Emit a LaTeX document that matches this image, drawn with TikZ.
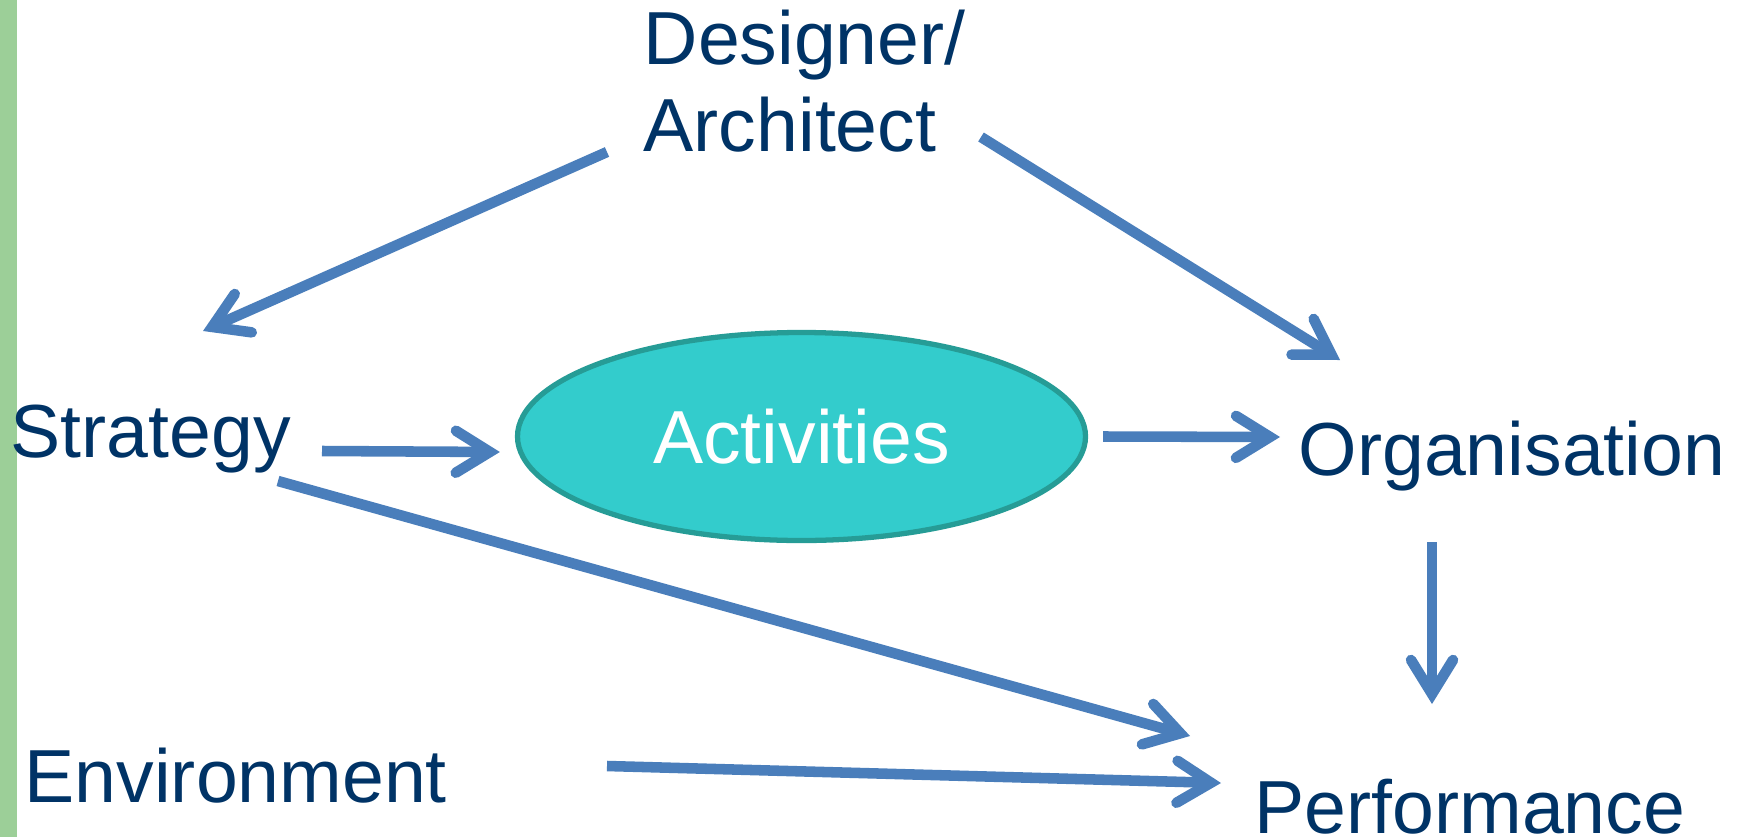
\documentclass[tikz,border=0pt]{standalone}
\usepackage{fontspec}
\setmainfont{Liberation Sans}
\usetikzlibrary{arrows.meta,shapes.geometric}

\definecolor{navy}{RGB}{0,51,102}
\definecolor{arrblue}{RGB}{74,126,187}
\definecolor{barcol}{RGB}{156,207,152}
\definecolor{actfill}{RGB}{51,204,204}
\definecolor{actline}{RGB}{38,156,150}

\begin{document}
\begin{tikzpicture}[
    lbl/.style={inner sep=0pt, anchor=base west, text=navy,
      font=\fontsize{21.4}{24.7}\selectfont},
    arr/.style={draw=arrblue, line width=3pt,
      -{Straight Barb[length=3.4mm, width=4.2mm, line cap=round, line join=miter]}}
  ]
  \useasboundingbox (0,0) rectangle (17.41,-8.37);
  \fill[barcol] (0,0) rectangle (0.17,-8.37);

  \node[lbl, align=left] (des) at (6.43,-1.51) { Designer/\\Architect };
  \node[lbl] (str) at (0.10,-4.57) { Strategy };
  \node[lbl] (org) at (12.98,-4.75) { Organisation };
  \node[lbl] (env) at (0.24,-8.02) { Environment };
  \node[lbl] (perf) at (12.54,-8.33) { Performance };

  \node[ellipse, draw=actline, line width=1.5pt, fill=actfill, inner sep=0pt,
    minimum width=5.68cm, minimum height=2.08cm, text=white,
    font=\fontsize{21.4}{24.7}\selectfont] (act) at (8.015,-4.365) { Activities };

  \draw[arr] ([shift={(-0.36,-0.01)}]des.base west) -- ([shift={(1.93,1.26)}]str.base west);
  \draw[arr] ([shift={(3.38,0.14)}]des.base west) -- ([shift={(0.42,1.15)}]org.base west);

  \draw[arr] ([shift={(3.12,0.06)}]str.base west) -- ([shift={(-0.15,-0.155)}]act.west);
  \draw[arr] ([shift={(0.15,0)}]act.east) -- ([shift={(-0.18,0.38)}]org.base west);

  \draw[arr] ([shift={(2.68,-0.24)}]str.base west) -- ([shift={(-0.64,0.97)}]perf.base west);
  \draw[arr] ([shift={(5.83,0.36)}]env.base west) -- ([shift={(-0.33,0.50)}]perf.base west);
  \draw[arr] ([shift={(1.34,-0.67)}]org.base west) -- ([shift={(1.78,1.29)}]perf.base west);
\end{tikzpicture}
\end{document}
